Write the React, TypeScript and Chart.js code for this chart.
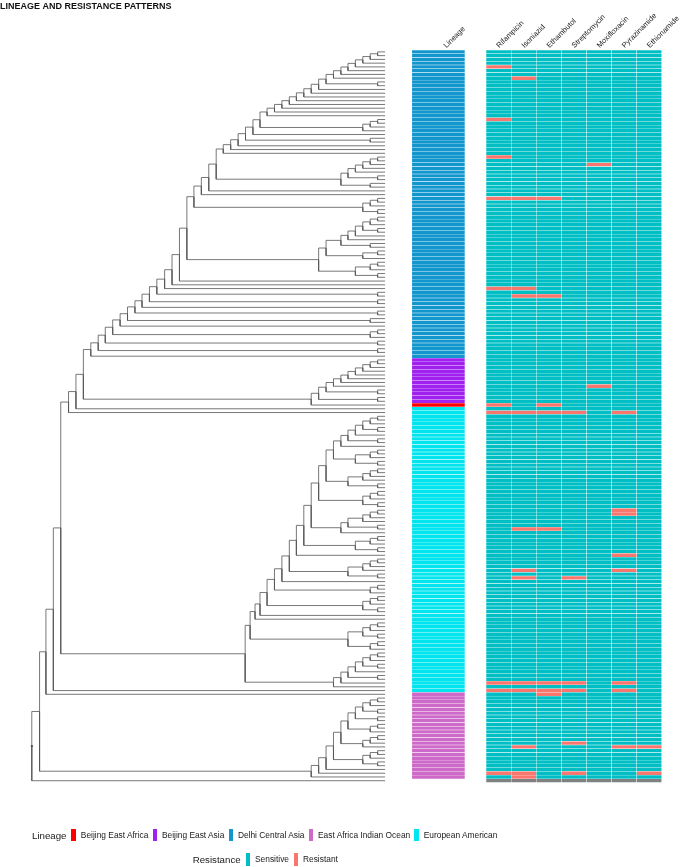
import React, { useEffect, useRef } from "react";
import { Chart, registerables } from "chart.js";

Chart.register(...registerables);

const FONT = '"Liberation Sans", Arial, Helvetica, sans-serif';

// ---------- text ----------
const TITLE = "LINEAGE AND RESISTANCE PATTERNS";
const LINEAGE_HEADER = "Lineage";
const DRUGS = ["Rifampicin", "Isoniazid", "Ethambutol", "Streptomycin", "Moxifloxacin", "Pyrazinamide", "Ethionamide"];

// ---------- lineage strip (runs of rows, top to bottom) ----------
const LINEAGE_RUNS = ["Delhi Central Asia", "Beijing East Asia", "Beijing East Africa", "European American", "East Africa Indian Ocean"];
const LINEAGE_RUN_LENGTHS = [82, 12, 1, 76, 23];
const LINEAGE_LEGEND = ["Beijing East Africa", "Beijing East Asia", "Delhi Central Asia", "East Africa Indian Ocean", "European American"];
const LINEAGE_COLORS: Record<string, string> = {
  "Beijing East Africa": "#FF0000",
  "Beijing East Asia": "#A020F0",
  "Delhi Central Asia": "#1296CE",
  "East Africa Indian Ocean": "#CD69C9",
  "European American": "#00E5EE",
};

// ---------- resistance (resistant rows per drug) ----------
const RIFAMPICIN_R = [4, 18, 28, 39, 63, 94, 96, 168, 170, 192];
const ISONIAZID_R = [7, 39, 63, 65, 96, 127, 138, 140, 168, 170, 185, 192, 193];
const ETHAMBUTOL_R = [39, 65, 94, 96, 127, 168, 170, 171];
const STREPTOMYCIN_R = [96, 140, 168, 170, 184, 192];
const MOXIFLOXACIN_R = [30, 89];
const PYRAZINAMIDE_R = [96, 122, 123, 134, 138, 168, 170, 185];
const ETHIONAMIDE_R = [185, 192];
const RESISTANT_BY_DRUG = [RIFAMPICIN_R, ISONIAZID_R, ETHAMBUTOL_R, STREPTOMYCIN_R, MOXIFLOXACIN_R, PYRAZINAMIDE_R, ETHIONAMIDE_R];
const MISSING_ROWS = [194];
const N_ROWS = 195;

const SENSITIVE = "#00BFC4";
const RESISTANT = "#F8766D";
const MISSING = "#808080";

// ---------- tree (tips = row numbers, ":d" = node depth, tips at depth 100) ----------
const TIP_DEPTH = 100;
const BLUE_TOP = "(0,1):97.9";
const BLUE_STEPS: [number, string][] = [
  [95.8, "2"], [93.7, "3"], [91.6, "4"], [89.5, "5"], [87.5, "6"], [85.4, "7"], [83.3, "(8,9):97.9"],
  [81.2, "10"], [79.1, "11"], [77.0, "12"], [74.9, "13"], [72.9, "14"], [70.8, "15"], [68.7, "16"], [66.6, "17"],
  [64.6, "(((18,19):97.9,20):95.8,21):93.7"], [62.6, "22"], [60.5, "(23,24):95.8"], [58.4, "25"], [56.3, "26"], [54.2, "27"],
  [52.2, "((((((28,29):97.9,30):95.8,31):93.7,32):91.6,(33,34):97.9):89.5,(35,36):95.8):87.5"],
  [50.1, "37"], [48.0, "38"], [45.9, "(((39,40):97.9,41):95.8,(42,43):97.9):93.7"],
  [43.9, "((((((((44,45):97.9,46):95.8,(47,48):97.9):93.7,49):91.6,50):89.5,(51,52):95.8):87.5,((53,54):97.9,55):93.7):83.3,(((56,57):97.9,58):95.8,(59,60):97.9):91.6):81.2"],
  [41.8, "61"], [39.7, "62"], [37.6, "63"], [35.4, "(64,65):97.9"], [33.3, "(66,67):97.9"], [31.2, "68"],
  [29.2, "(69,70):97.9"], [27.1, "(71,72):95.8"], [25.0, "73"], [22.9, "((74,75):97.9,76):95.8"],
  [20.8, "(77,78):97.9"], [18.8, "(79,80):97.9"], [16.7, "81"],
];
const BEIJING_TOP = "(82,83):97.9";
const BEIJING_STEPS: [number, string][] = [
  [95.8, "84"], [93.7, "85"], [91.6, "86"], [89.5, "87"], [87.5, "88"], [85.4, "89"],
  [83.3, "(90,91):97.9"], [81.2, "(92,93):97.9"], [79.1, "94"],
];
const EURO_TOP = "((((((97,98):97.9,99):95.8,(100,101):97.9):93.7,102):91.6,(103,104):97.9):89.5,105):87.5";
const EURO_STEPS: [number, string][] = [
  [85.4, "(((106,107):97.9,108):95.8,(109,110):97.9):91.6"],
  [83.3, "((((111,112):97.9,113):95.8,114):93.7,(115,116):97.9):89.5"],
  [81.2, "(((117,118):97.9,119):95.8,(120,121):97.9):93.7"],
  [79.1, "(((((122,123):97.9,124):95.8,125):93.7,(126,127):97.9):89.5,128):87.5"],
  [77.0, "(((129,130):97.9,131):95.8,(132,133):97.9):91.6"],
  [74.9, "134"],
  [72.9, "((((135,136):97.9,137):95.8,138):93.7,(139,140):97.9):89.5"],
  [70.8, "141"],
  [68.7, "((142,143):97.9,144):95.8"],
  [66.6, "(((145,146):97.9,147):95.8,(148,149):97.9):93.7"],
  [64.6, "150"],
  [63.2, "151"],
  [61.8, "((((152,153):97.9,154):95.8,(155,156):97.9):93.7,((157,158):97.9,159):95.8):89.5"],
  [60.4, "(((((((160,161):97.9,162):95.8,(163,164):97.9):93.7,165):91.6,(166,167):97.9):89.5,168):87.5,169):85.4"],
];
const EAIO_TOP = "(((172,173):97.9,174):95.8,(175,176):97.9):93.7";
const EAIO_STEPS: [number, string][] = [
  [91.6, "(177,178):97.9"], [89.5, "((179,180):97.9,181):95.8"], [87.5, "(((182,183):97.9,184):95.8,185):93.7"],
  [85.4, "(((186,187):97.9,188):95.8,(189,190):97.9):93.7"], [83.3, "191"], [81.2, "192"], [79.1, "193"],
];
const BACKBONE_JOIN = 14.6; // Delhi CA clade + Beijing clade
const BACKBONE_STEPS: [number, string][] = [
  [12.5, "95"], [10.4, "96"], [8.2, "@euro"], [6.1, "170"], [4.0, "171"], [2.2, "@eaio"], [0, "194"],
];

// ---------- layout constants (x axis units; tree spans 0..100) ----------
const X_MIN = -9;
const X_MAX = 178.4;
const STRIP_START = 107.6;
const STRIP_END = 122.6;
const HEAT_START = 128.6;
const HEAT_COL = 7.1;
const LINEAGE_HEADER_X = 118.8;
const DRUG_HEADER_SHIFT = 1.6;
const AXIS_H = 38.2;

type TNode = { depth: number; children: TNode[]; tip?: number; y?: number };

function parseTree(s: string): TNode {
  let i = 0;
  const num = () => {
    const j = i;
    while (i < s.length && /[0-9.]/.test(s[i])) i++;
    return parseFloat(s.slice(j, i));
  };
  const node = (): TNode => {
    if (s[i] === "(") {
      i++;
      const children = [node()];
      while (s[i] === ",") {
        i++;
        children.push(node());
      }
      i++;
      let depth = TIP_DEPTH;
      if (s[i] === ":") {
        i++;
        depth = num();
      }
      return { depth, children };
    }
    return { depth: TIP_DEPTH, children: [], tip: num() };
  };
  return node();
}

function ladder(top: TNode, steps: [number, string][], refs: Record<string, TNode> = {}): TNode {
  let cur = top;
  for (const [d, item] of steps) {
    const child = item.startsWith("@") ? refs[item.slice(1)] : parseTree(item);
    cur = { depth: d, children: [cur, child] };
  }
  return cur;
}

function buildTree(): TNode {
  const blue = ladder(parseTree(BLUE_TOP), BLUE_STEPS);
  const beijing = ladder(parseTree(BEIJING_TOP), BEIJING_STEPS);
  const euro = ladder(parseTree(EURO_TOP), EURO_STEPS);
  const eaio = ladder(parseTree(EAIO_TOP), EAIO_STEPS);
  const join: TNode = { depth: BACKBONE_JOIN, children: [blue, beijing] };
  return ladder(join, BACKBONE_STEPS, { euro, eaio });
}

function setY(n: TNode): number {
  if (n.tip !== undefined) {
    n.y = n.tip;
  } else {
    const ys = n.children.map(setY);
    n.y = ys.reduce((a, b) => a + b, 0) / ys.length;
  }
  return n.y;
}

function edges(n: TNode, out: { x: number; y: number }[]) {
  for (const c of n.children) {
    out.push({ x: n.depth, y: n.y! }, { x: n.depth, y: c.y! }, { x: c.depth, y: c.y! }, { x: NaN, y: NaN });
    edges(c, out);
  }
}

function lineageOfRows(): string[] {
  const rows: string[] = [];
  LINEAGE_RUNS.forEach((name, k) => {
    for (let j = 0; j < LINEAGE_RUN_LENGTHS[k]; j++) rows.push(name);
  });
  return rows;
}

const HEADERS = [LINEAGE_HEADER, ...DRUGS];

export default function App() {
  const ref = useRef<HTMLCanvasElement>(null);

  useEffect(() => {
    const root = buildTree();
    setY(root);
    const treePts: { x: number; y: number }[] = [];
    edges(root, treePts);

    const lineageRows = lineageOfRows();
    const headerPos = [
      LINEAGE_HEADER_X,
      ...DRUGS.map((_, i) => HEAT_START + HEAT_COL * (i + 0.5) + DRUG_HEADER_SHIFT),
    ];

    const cellStyle = {
      borderColor: "rgba(255,255,255,0.22)",
      borderWidth: 0.5,
      borderSkipped: false,
      grouped: false,
      barPercentage: 1,
      categoryPercentage: 1,
      xAxisID: "x",
      yAxisID: "y",
    };

    const drugSets = DRUGS.map((drug, k) => {
      const x0 = HEAT_START + HEAT_COL * k;
      const data = [];
      const colors = [];
      for (let r = 0; r < N_ROWS; r++) {
        data.push({ y: r, x: [x0, x0 + HEAT_COL] });
        colors.push(MISSING_ROWS.includes(r) ? MISSING : RESISTANT_BY_DRUG[k].includes(r) ? RESISTANT : SENSITIVE);
      }
      return { type: "bar", label: drug, data, backgroundColor: colors, ...cellStyle };
    });

    const lineageSet = {
      type: "bar",
      label: LINEAGE_HEADER,
      data: lineageRows.map((_, r) => ({ y: r, x: [STRIP_START, STRIP_END] })),
      backgroundColor: lineageRows.map((l) => LINEAGE_COLORS[l]),
      ...cellStyle,
    };

    const chart = new Chart(ref.current!, {
      type: "bar",
      data: {
        datasets: [
          {
            type: "line",
            label: "tree",
            data: treePts,
            indexAxis: "x",
            borderColor: "#555555",
            borderWidth: 0.8,
            pointRadius: 0,
            pointHoverRadius: 0,
            fill: false,
            tension: 0,
            spanGaps: false,
            xAxisID: "x",
            yAxisID: "y",
          },
          {
            type: "line",
            label: "root",
            data: [{ x: root.depth, y: root.y }],
            indexAxis: "x",
            showLine: false,
            pointRadius: 1.3,
            pointHoverRadius: 0,
            pointStyle: "rect",
            pointBackgroundColor: "#111111",
            pointBorderWidth: 0,
            xAxisID: "x",
            yAxisID: "y",
          },
          lineageSet,
          ...drugSets,
        ] as any,
      },
      options: {
        indexAxis: "y",
        animation: false,
        responsive: false,
        events: [],
        font: { family: FONT },
        layout: { autoPadding: false, padding: { left: 0, right: 23, top: 0, bottom: 867 - 782.6 } },
        plugins: {
          legend: { display: false },
          tooltip: { enabled: false },
          title: {
            display: true,
            text: TITLE,
            align: "start",
            color: "#111111",
            font: { family: FONT, size: 9, weight: "bold" },
            padding: { top: 1, bottom: 0 },
          },
        },
        scales: {
          x: { type: "linear", min: X_MIN, max: X_MAX, display: false },
          x2: {
            type: "linear",
            position: "top",
            min: X_MIN,
            max: X_MAX,
            grid: { display: false, drawTicks: false },
            border: { display: false },
            afterBuildTicks: (s: any) => {
              s.ticks = headerPos.map((v) => ({ value: v }));
            },
            afterFit: (s: any) => {
              s.height = AXIS_H;
            },
            ticks: {
              autoSkip: false,
              minRotation: 45,
              maxRotation: 45,
              padding: 0,
              color: "#1a1a1a",
              font: { family: FONT, size: 7.5 },
              callback: (_v: any, i: number) => HEADERS[i],
            },
          },
          y: {
            type: "linear",
            min: -0.5,
            max: N_ROWS - 0.5,
            reverse: true,
            display: false,
            offset: false,
            grid: { offset: false },
            afterBuildTicks: (s: any) => {
              s.ticks = [];
            },
          },
        },
      } as any,
    } as any);
    return () => chart.destroy();
  }, []);

  const box = (color: string, h: number) => (
    <span style={{ display: "inline-block", width: 4.7, height: h, background: color, marginRight: 4.7, flex: "none" }} />
  );
  const rowStyle: React.CSSProperties = {
    position: "absolute",
    display: "flex",
    alignItems: "center",
    fontFamily: FONT,
    color: "#1a1a1a",
    whiteSpace: "nowrap",
    height: 14,
  };

  return (
    <div style={{ position: "fixed", left: 0, top: 0, width: 685, height: 867, background: "#ffffff", overflow: "hidden" }}>
      <canvas ref={ref} width={685} height={867} style={{ display: "block", width: 685, height: 867 }} />
      <div style={{ ...rowStyle, left: 32, top: 828 }}>
        <span style={{ fontSize: 9.7, marginRight: 5 }}>Lineage</span>
        {LINEAGE_LEGEND.map((name) => (
          <React.Fragment key={name}>
            {box(LINEAGE_COLORS[name], 11.7)}
            <span style={{ fontSize: 8.4, marginRight: 4.2 }}>{name}</span>
          </React.Fragment>
        ))}
      </div>
      <div style={{ ...rowStyle, left: 192.7, top: 852 }}>
        <span style={{ fontSize: 9.7, marginRight: 5 }}>Resistance</span>
        {box(SENSITIVE, 13)}
        <span style={{ fontSize: 8.4, marginRight: 4.6 }}>Sensitive</span>
        {box(RESISTANT, 13)}
        <span style={{ fontSize: 8.4 }}>Resistant</span>
      </div>
    </div>
  );
}
